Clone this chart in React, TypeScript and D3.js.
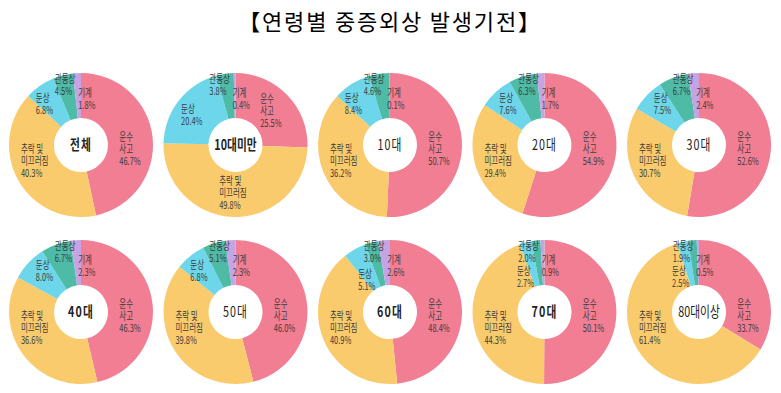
import { useMemo } from "react";
import * as d3 from "d3";

const WIDTH = 781;
const HEIGHT = 393;

// age groups, in reading order (2 rows x 5)
const GROUPS = ["전체", "10대미만", "10대", "20대", "30대", "40대", "50대", "60대", "70대", "80대이상"];
const BOLD_GROUPS = ["전체", "10대미만", "40대", "60대", "70대"];

const CATEGORIES = ["운수사고", "추락 및 미끄러짐", "둔상", "관통상", "기계"];
const CATEGORY_LINES = [["운수", "사고"], ["추락 및", "미끄러짐"], ["둔상"], ["관통상"], ["기계"]];

// percent values per category, one entry per age group
const TRANSPORT = [46.7, 25.5, 50.7, 54.9, 52.6, 46.3, 46.0, 48.4, 50.1, 33.7];
const FALLS = [40.3, 49.8, 36.2, 29.4, 30.7, 36.6, 39.8, 40.9, 44.3, 61.4];
const BLUNT = [6.8, 20.4, 8.4, 7.6, 7.5, 8.0, 6.8, 5.1, 2.7, 2.5];
const PENETRATING = [4.5, 3.8, 4.6, 6.3, 6.7, 6.7, 5.1, 3.0, 2.0, 1.9];
const MACHINE = [1.8, 0.4, 0.1, 1.7, 2.4, 2.3, 2.3, 2.6, 0.9, 0.5];

const SERIES = [TRANSPORT, FALLS, BLUNT, PENETRATING, MACHINE];

const COLORS = ["#f27e93", "#f9cb6c", "#6dd6ea", "#4dbba6", "#c6a3e2"];

// preferred label angle (deg, clockwise from 12 o'clock) and radius per category
const LABEL_PREF = [
  { angle: 95, r: 49 },
  { angle: 250, r: 48 },
  { angle: 318, r: 55 },
  { angle: 346, r: 62 },
  { angle: 7, r: 46 },
];

const OUTER = 72;
const INNER = 27;
const FONT = "'Noto Sans CJK KR', 'Noto Sans', sans-serif";
const SX = 0.68;
const LINE_H = 12;

const charWidth = (c: string) => {
  if (/[0-9]/.test(c)) return 6.1;
  if (c === ".") return 3;
  if (c === "%") return 9.6;
  if (c === " ") return 3;
  return 11;
};
const lineWidth = (s: string) => d3.sum(s.split(""), charWidth) * SX;

const angDiff = (a: number, b: number) => {
  const d = Math.abs(a - b) % 360;
  return d > 180 ? 360 - d : d;
};

const Donut = ({ index, cx, cy }: { index: number; cx: number; cy: number }) => {
  const values = SERIES.map((s) => s[index]);
  const arcs = useMemo(
    () => d3.pie<number>().sort(null).value((d) => d)(values),
    [index]
  );
  const arcGen = d3.arc<d3.PieArcDatum<number>>().innerRadius(INNER).outerRadius(OUTER);

  const labels = arcs.map((a, i) => {
    const mid = ((a.startAngle + a.endAngle) / 2) * (180 / Math.PI);
    const pref = LABEL_PREF[i];
    let angle = pref.angle;
    let r = pref.r;
    // label leaves its usual spot when the slice has moved far away
    if (angDiff(mid, pref.angle) > 45) angle = mid;
    // a wide minor slice holds its label near its own centroid
    if (i >= 2 && values[i] >= 15) {
      angle = mid - 4;
      r = 53;
    }
    // small blunt slices pull their label inward
    if (i === 2 && values[i] < 6) {
      angle = (pref.angle + mid) / 2;
      r = 40;
    }
    const rad = (angle * Math.PI) / 180;
    const x = r * Math.sin(rad);
    const y = -r * Math.cos(rad);
    const lines = [...CATEGORY_LINES[i], `${values[i].toFixed(1)}%`];
    const w = d3.max(lines, lineWidth) ?? 0;
    const top = y - ((lines.length - 1) * LINE_H) / 2 + 4;
    return (
      <g key={CATEGORIES[i]} transform={`translate(${x - w / 2},${top}) scale(${SX},1)`}>
        <text x={0} y={0} fontSize={11} fill="#3c3c3c" fontFamily={FONT}>
          {lines.map((l, k) => (
            <tspan key={k} x={0} dy={k === 0 ? 0 : LINE_H}>
              {l}
            </tspan>
          ))}
        </text>
      </g>
    );
  });

  const group = GROUPS[index];
  return (
    <g transform={`translate(${cx},${cy})`}>
      {arcs.map((a, i) => (
        <path key={i} d={arcGen(a) ?? ""} fill={COLORS[i]} />
      ))}
      {labels}
      <g transform="scale(0.74,1)">
        <text
          x={0}
          y={5}
          textAnchor="middle"
          fontSize={14.5}
          fontWeight={BOLD_GROUPS.includes(group) ? "bold" : "normal"}
          fill="#222"
          fontFamily={FONT}
          letterSpacing={group.length <= 3 ? 1.5 : 0}
        >
          {group}
        </text>
      </g>
    </g>
  );
};

const App = () => {
  const xScale = d3.scalePoint<number>().domain([0, 1, 2, 3, 4]).range([81, 699]);
  const yScale = d3.scalePoint<number>().domain([0, 1]).range([145, 312]);

  return (
    <svg
      width={WIDTH}
      height={HEIGHT}
      style={{ position: "absolute", left: 0, top: 0, background: "white" }}
    >
      <text
        x={390}
        y={30}
        textAnchor="middle"
        fontSize={22}
        letterSpacing={1.8}
        fill="#000"
        fontFamily={FONT}
      >
        【연령별 중증외상 발생기전】
      </text>
      {GROUPS.map((g, i) => (
        <Donut key={g} index={i} cx={xScale(i % 5) ?? 0} cy={yScale(Math.floor(i / 5)) ?? 0} />
      ))}
    </svg>
  );
};

export default App;
